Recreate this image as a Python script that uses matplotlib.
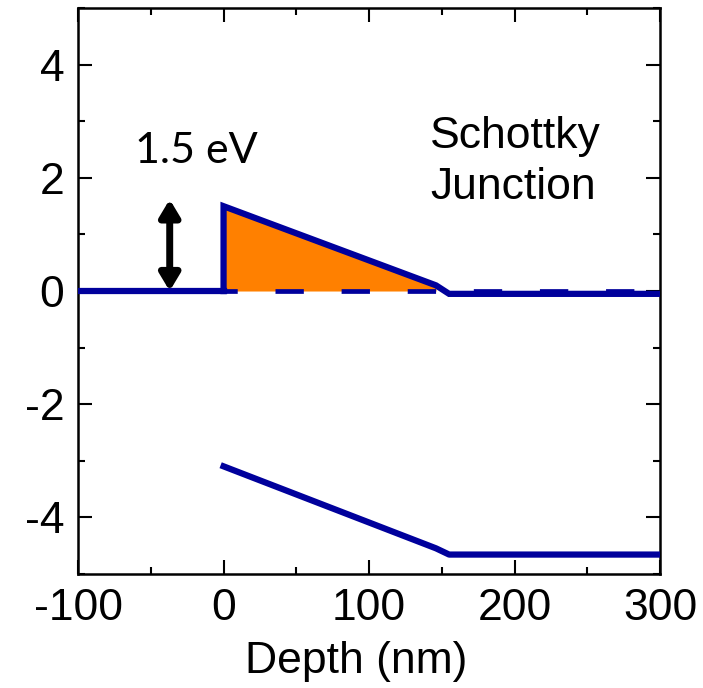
import numpy as np
import matplotlib
matplotlib.use("Agg")
import matplotlib.pyplot as plt
from matplotlib.ticker import MultipleLocator

# conduction band (eV) vs depth (nm)
cb_left_x = [-100, 0]
cb_left_y = [0.0, 0.0]
cb_x = [0, 0, 146, 155, 300]
cb_y = [0.0, 1.5, 0.1, -0.05, -0.05]
# valence band
vb_x = [0, 146, 155, 300]
vb_y = [-3.1, -4.55, -4.66, -4.66]
# reference Fermi level (dashed)
ef_x = [0, 300]
ef_y = [0.0, 0.0]
# shaded barrier region
fill_x = [0, 146]
fill_top = [1.5, 0.1]

arrow_x = -37

blue = "#00009C"
orange = "#FF8000"

plt.rcParams["font.family"] = ["Liberation Sans", "DejaVu Sans"]
plt.rcParams["axes.unicode_minus"] = False

fig = plt.figure(figsize=(7.03, 6.88), dpi=100)
ax = fig.add_axes([0.111, 0.166, 0.828, 0.822])

ax.fill_between(fill_x, 0, fill_top, color=orange, lw=0, zorder=1)
ax.plot(ef_x, ef_y, color=blue, lw=3.4, ls=(3.2, (6, 8)), zorder=2)
ax.plot(cb_left_x, cb_left_y, color=blue, lw=4.5, zorder=3,
        solid_joinstyle="miter")
ax.plot(cb_x, cb_y, color=blue, lw=4.5, zorder=3, solid_joinstyle="miter")
ax.plot(vb_x, vb_y, color=blue, lw=4.5, zorder=3)

ax.annotate("", xy=(arrow_x, 1.62), xytext=(arrow_x, 0.0),
            arrowprops=dict(arrowstyle="<|-|>,head_length=1.0,head_width=0.6",
                            color="black", lw=5, shrinkA=0, shrinkB=0),
            zorder=4)
ax.text(-19, 2.48, "1.5 eV", ha="center", va="center", fontsize=31,
        family=["Lato", "DejaVu Sans"])
ax.text(142, 2.28, "Schottky\nJunction", ha="left", va="center", fontsize=32,
        linespacing=1.3)

ax.set_xlim(-100, 300)
ax.set_ylim(-5, 5)
ax.xaxis.set_major_locator(MultipleLocator(100))
ax.xaxis.set_minor_locator(MultipleLocator(50))
ax.yaxis.set_major_locator(MultipleLocator(2))
ax.yaxis.set_minor_locator(MultipleLocator(1))
ax.tick_params(which="both", direction="in", top=True, right=True,
               width=1.5, labelsize=32)
ax.tick_params(which="major", length=10, pad=10)
ax.tick_params(which="minor", length=5)
for s in ax.spines.values():
    s.set_linewidth(1.8)

ax.set_xlabel("Depth (nm)", fontsize=32)
ax.xaxis.set_label_coords(0.478, -0.155, transform=ax.transAxes)
ax.xaxis.label.set_va("center")

fig.savefig("out.png", dpi=100)
